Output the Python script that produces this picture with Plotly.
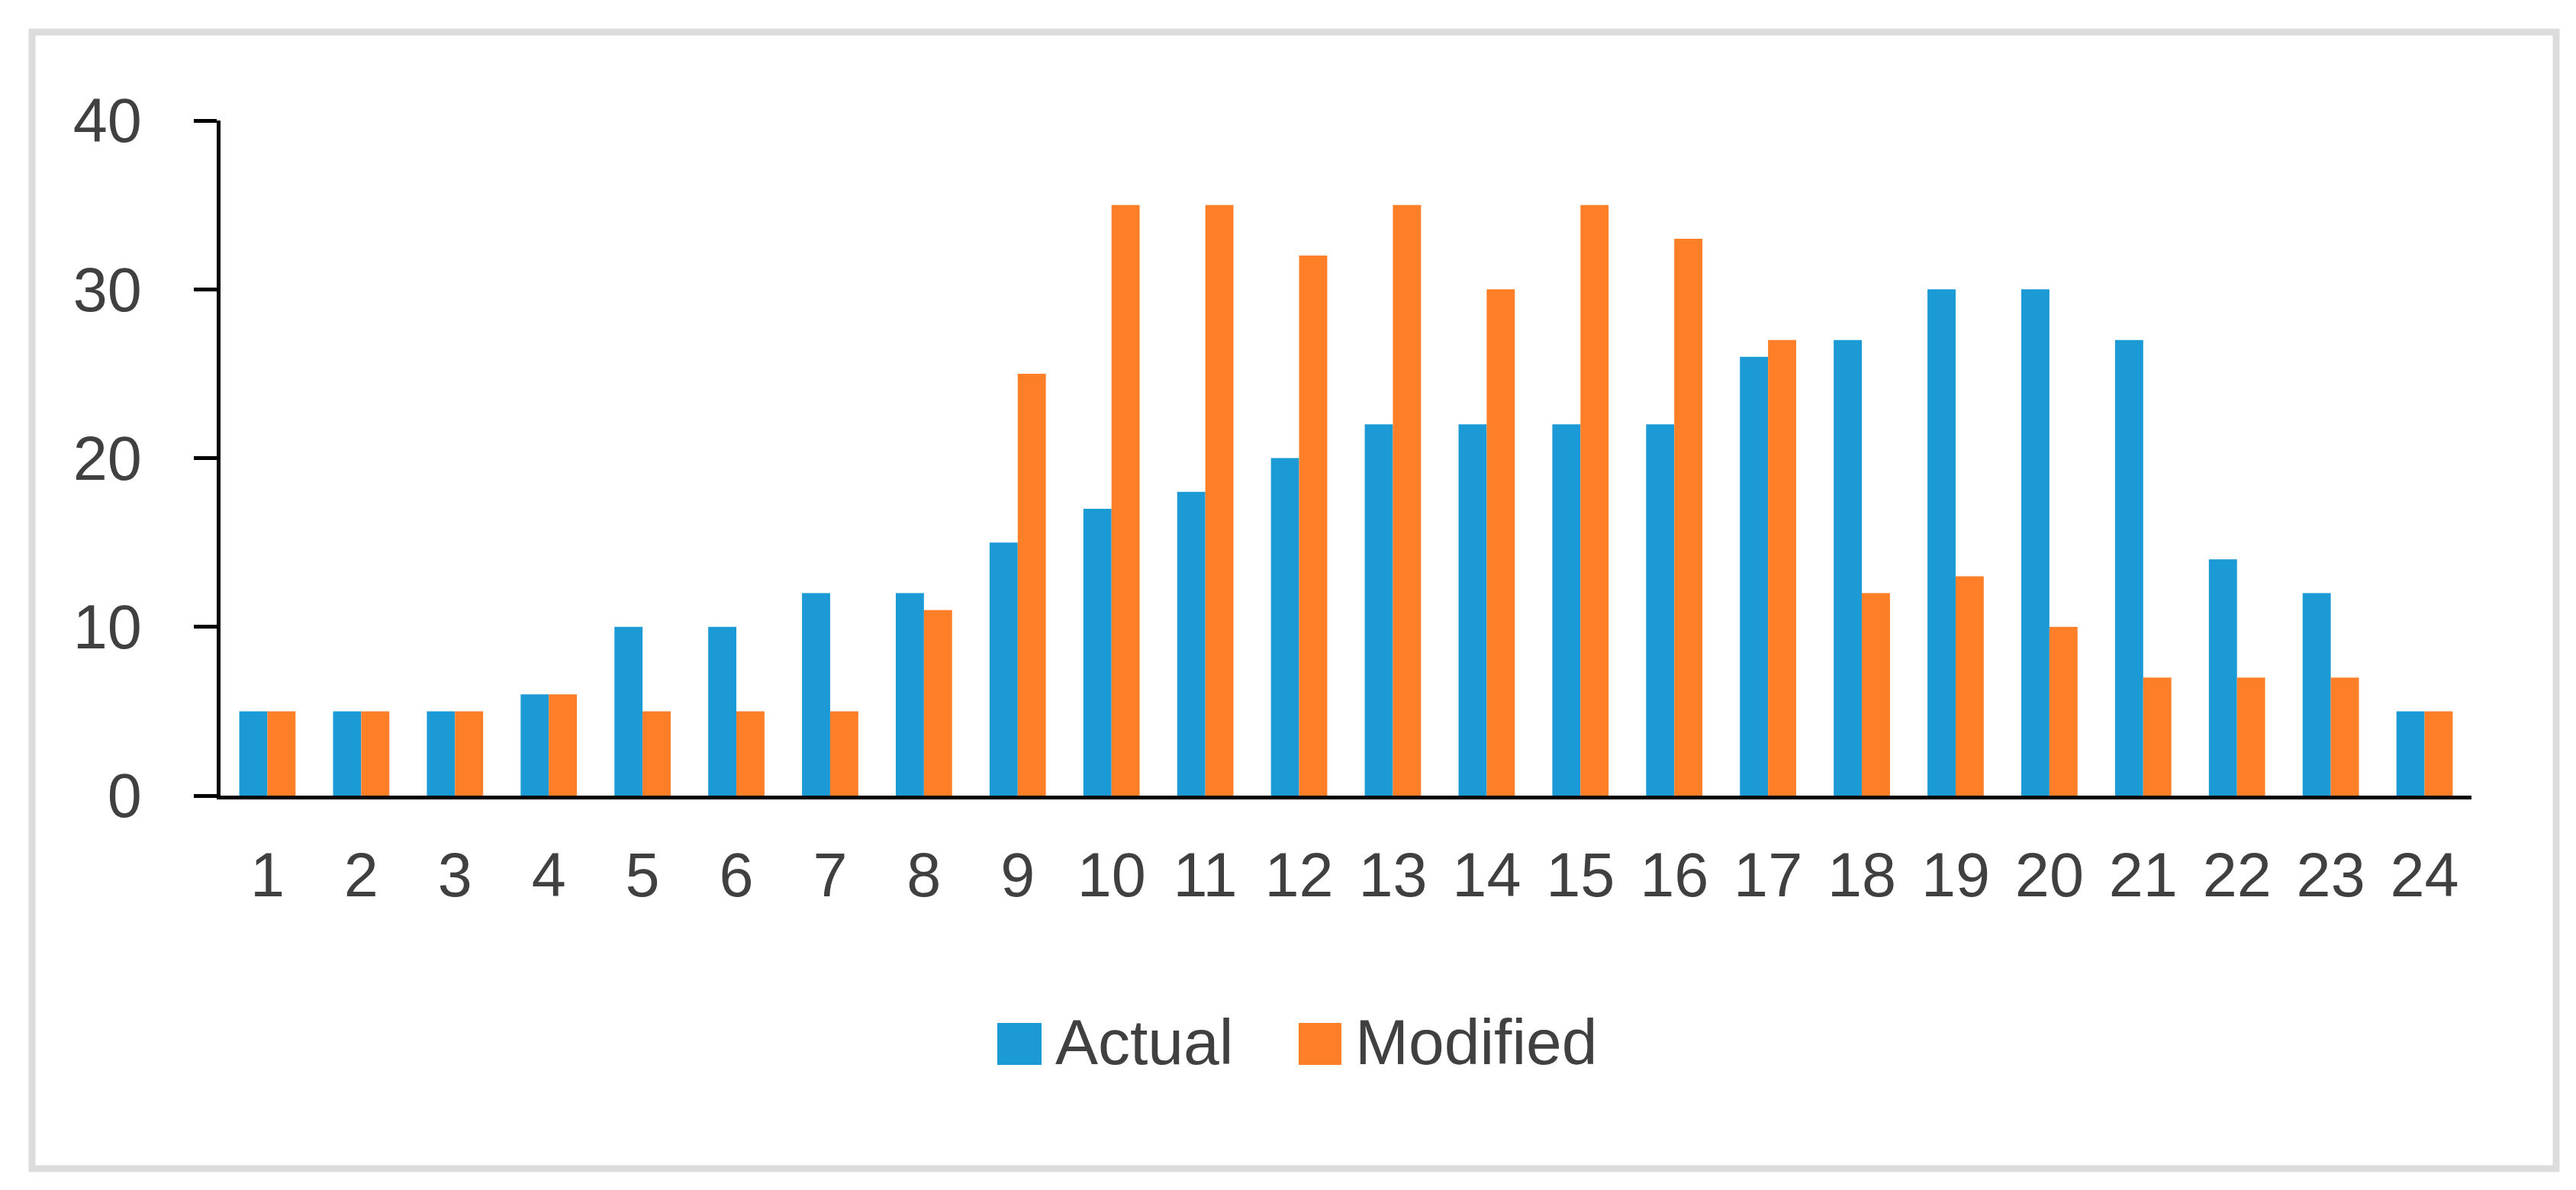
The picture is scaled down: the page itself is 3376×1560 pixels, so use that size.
import plotly.graph_objects as go

hours = [str(i) for i in range(1, 25)]
actual = [5, 5, 5, 6, 10, 10, 12, 12, 15, 17, 18, 20, 22, 22, 22, 22, 26, 27, 30, 30, 27, 14, 12, 5]
modified = [5, 5, 5, 6, 5, 5, 5, 11, 25, 35, 35, 32, 35, 30, 35, 33, 27, 12, 13, 10, 7, 7, 7, 5]
series_names = ["Actual", "Modified"]
series_colors = ["#1B9AD6", "#FE7F27"]
y_ticks = [0, 10, 20, 30, 40]

W, H = 3376, 1560
PX0, PX1 = 281, 3231   # plot area left/right in pixels
PY0, PY1 = 1035, 150   # plot area bottom/top in pixels
TXT = "#404040"
FONT = "Liberation Sans, Arial, sans-serif"
FS = 81


def px(x):
    return (x - PX0) / (PX1 - PX0)


def py(y):
    return (PY0 - y) / (PY0 - PY1)


fig = go.Figure()
for name, vals, col in zip(series_names, [actual, modified], series_colors):
    fig.add_trace(go.Bar(x=hours, y=vals, name=name, marker=dict(color=col, line=dict(width=0))))

shapes = [
    dict(type="rect", xref="paper", yref="paper", x0=px(34), x1=px(3342), y0=py(1524), y1=py(34),
         line=dict(color="#DCDCDC", width=9), fillcolor="rgba(0,0,0,0)", layer="below"),
]
annotations = []
legend_items = [(1299, 1357, 1373), (1694, 1750, 1766)]
for (rx0, rx1, tx), name, col in zip(legend_items, series_names, series_colors):
    shapes.append(dict(type="rect", xref="paper", yref="paper", x0=px(rx0), x1=px(rx1),
                       y0=py(1388), y1=py(1333), fillcolor=col, line=dict(width=0)))
    annotations.append(dict(xref="paper", yref="paper", x=px(tx), y=py(1358), text=name,
                            showarrow=False, xanchor="left", yanchor="middle",
                            font=dict(family=FONT, size=FS + 3, color=TXT)))

fig.update_layout(
    width=W, height=H,
    margin=dict(l=PX0, r=W - PX1, t=PY1, b=H - PY0, pad=0),
    paper_bgcolor="white", plot_bgcolor="white",
    barmode="group", bargap=0.40, bargroupgap=0.0,
    showlegend=False,
    font=dict(family=FONT, size=FS, color=TXT),
    shapes=shapes, annotations=annotations,
)
fig.update_xaxes(type="category", showline=True, linecolor="black", linewidth=5,
                 ticks="", showgrid=False, zeroline=False,
                 tickfont=dict(family=FONT, size=FS, color=TXT), ticklabelstandoff=30)
fig.update_yaxes(range=[0, 40], tickvals=y_ticks, showline=True, linecolor="black", linewidth=5,
                 ticks="outside", ticklen=30, tickwidth=5, tickcolor="black",
                 showgrid=False, zeroline=False,
                 tickfont=dict(family=FONT, size=FS, color=TXT), ticklabelstandoff=52)

fig.write_html("out.html")
